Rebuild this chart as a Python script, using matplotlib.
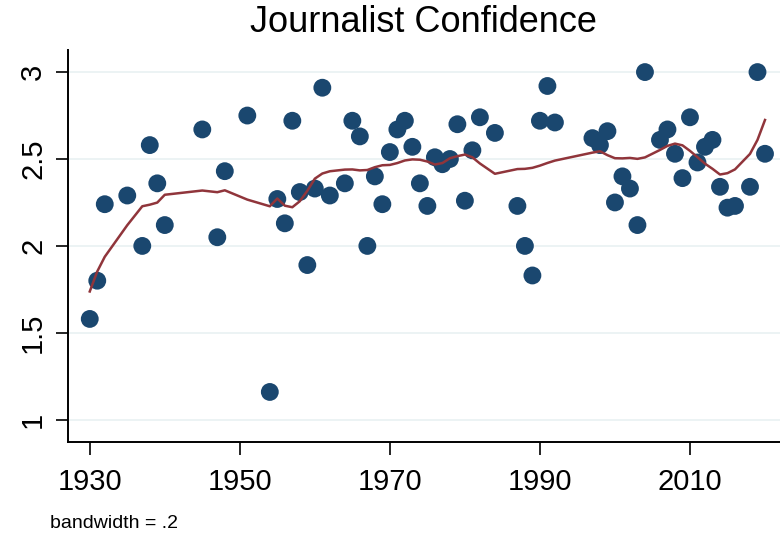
import numpy as np
import matplotlib
matplotlib.use("Agg")
import matplotlib.pyplot as plt

# survey years and mean confidence score per year
years = [1930, 1931, 1932, 1935, 1937, 1938, 1939, 1940, 1945, 1947,
         1948, 1951, 1954, 1955, 1956, 1957, 1958, 1959, 1960, 1961,
         1962, 1964, 1965, 1966, 1967, 1968, 1969, 1970, 1971, 1972,
         1973, 1974, 1975, 1976, 1977, 1978, 1979, 1980, 1981, 1982,
         1984, 1987, 1988, 1989, 1990, 1991, 1992, 1997, 1998, 1999,
         2000, 2001, 2002, 2003, 2004, 2006, 2007, 2008, 2009, 2010,
         2011, 2012, 2013, 2014, 2015, 2016, 2018, 2019, 2020]
confidence = [1.58, 1.80, 2.24, 2.29, 2.00, 2.58, 2.36, 2.12, 2.67, 2.05,
              2.43, 2.75, 1.16, 2.27, 2.13, 2.72, 2.31, 1.89, 2.33, 2.91,
              2.29, 2.36, 2.72, 2.63, 2.00, 2.40, 2.24, 2.54, 2.67, 2.72,
              2.57, 2.36, 2.23, 2.51, 2.47, 2.50, 2.70, 2.26, 2.55, 2.74,
              2.65, 2.23, 2.00, 1.83, 2.72, 2.92, 2.71, 2.62, 2.58, 2.66,
              2.25, 2.40, 2.33, 2.12, 3.00, 2.61, 2.67, 2.53, 2.39, 2.74,
              2.48, 2.57, 2.61, 2.34, 2.22, 2.23, 2.34, 3.00, 2.53]
bandwidth = 0.2

x_ticks = [1930, 1950, 1970, 1990, 2010]
y_ticks = [1, 1.5, 2, 2.5, 3]
y_tick_labels = ["1", "1.5", "2", "2.5", "3"]


def lowess_smooth(x, y, bw):
    # running-line lowess with tricube weights, symmetric neighbourhood
    x = np.asarray(x, float)
    y = np.asarray(y, float)
    idx = np.argsort(x)
    x, y = x[idx], y[idx]
    n = len(x)
    k = int(np.floor((n * bw - 0.5) / 2))
    fit = np.empty(n)
    for i in range(n):
        lo = max(0, i - k)
        hi = min(n - 1, i + k)
        xs, ys = x[lo:hi + 1], y[lo:hi + 1]
        delta = 1.0001 * max(x[hi] - x[i], x[i] - x[lo])
        w = (1 - (np.abs(xs - x[i]) / delta) ** 3) ** 3
        xm = np.sum(w * xs) / np.sum(w)
        ym = np.sum(w * ys) / np.sum(w)
        sxx = np.sum(w * (xs - xm) ** 2)
        b = np.sum(w * (xs - xm) * (ys - ym)) / sxx if sxx > 0 else 0.0
        fit[i] = ym + b * (x[i] - xm)
    return x, fit


plt.rcParams["font.family"] = ["Liberation Sans", "DejaVu Sans"]

navy = "#1a476f"
maroon = "#90353b"

fig = plt.figure(figsize=(7.8, 5.35), dpi=100)
ax = fig.add_axes([68 / 780, 1 - 441.5 / 535, 1 - 68 / 780, 391.5 / 535])

for yt in y_ticks:
    ax.axhline(yt, color="#eaf2f3", lw=1.3, zorder=0)

ax.scatter(years, confidence, s=165, color=navy, edgecolors="none", zorder=2)
xs, ys = lowess_smooth(years, confidence, bandwidth)
ax.plot(xs, ys, color=maroon, lw=1.8, zorder=3)

ax.set_xlim(1927.1, 2022)
ax.set_ylim(0.875, 3.127)
ax.set_xticks(x_ticks)
ax.set_xticklabels([str(t) for t in x_ticks], fontsize=21)
ax.set_yticks(y_ticks)
ax.set_yticklabels(y_tick_labels, fontsize=21, rotation=90, va="center")

for side in ["top", "right"]:
    ax.spines[side].set_visible(False)
for side in ["left", "bottom"]:
    ax.spines[side].set_linewidth(1.4)
ax.tick_params(axis="both", direction="out", length=9, width=1.2, pad=6)
ax.tick_params(axis="x", pad=10)

fig.text(0.543, 0.958, "Journalist Confidence", ha="center", va="center",
         fontsize=26)
fig.text(50 / 780, 1 - 523 / 535, "bandwidth = .2", ha="left", va="center",
         fontsize=14)

fig.savefig("out.png", dpi=100)
